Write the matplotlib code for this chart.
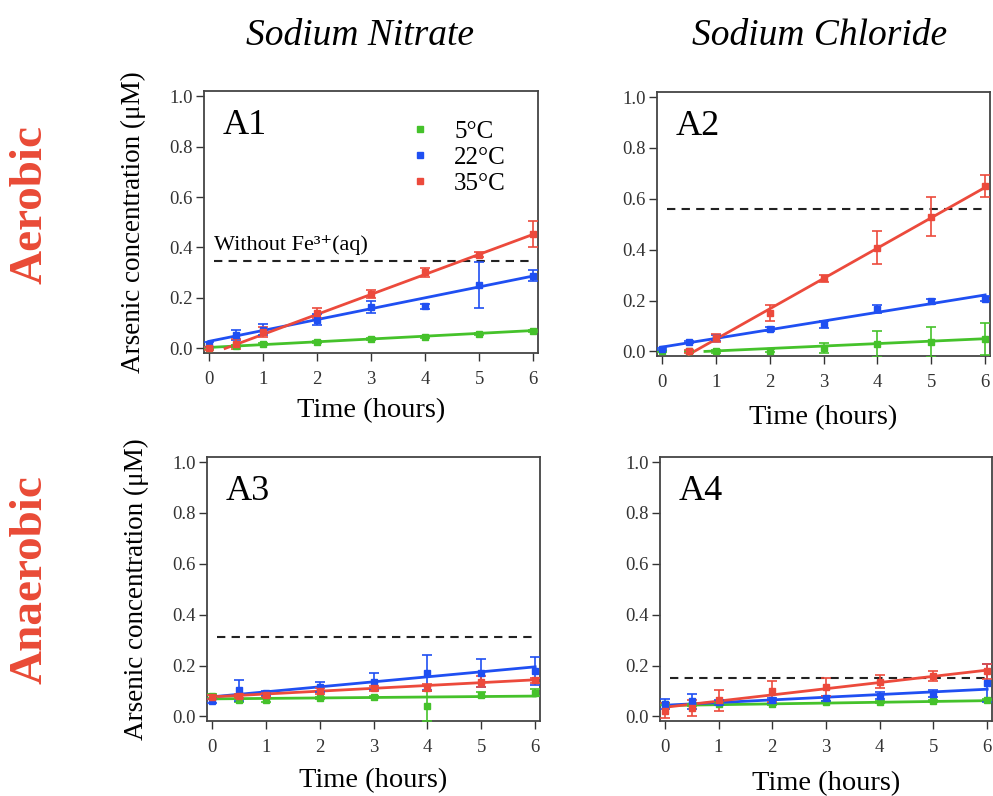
import numpy as np
import matplotlib
matplotlib.use("Agg")
import matplotlib.pyplot as plt
from matplotlib.lines import Line2D

plt.rcParams['font.family'] = ['Liberation Serif', 'DejaVu Serif']

GREEN = '#45c22b'
BLUE = '#1f4ff2'
RED = '#ec4a3c'

hours = [0, 0.5, 1, 2, 3, 4, 5, 6]
temps = ['5°C', '22°C', '35°C']

# A1: sodium nitrate, aerobic
a1_green = [0.003, 0.010, 0.016, 0.026, 0.038, 0.047, 0.059, 0.071]
a1_green_err = [0.004, 0.004, 0.004, 0.004, 0.004, 0.004, 0.004, 0.004]
a1_blue = [0.016, 0.053, 0.075, 0.114, 0.163, 0.167, 0.252, 0.289]
a1_blue_err = [0.010, 0.020, 0.022, 0.023, 0.024, 0.010, 0.090, 0.020]
a1_red = [0.000, 0.017, 0.066, 0.140, 0.216, 0.301, 0.371, 0.454]
a1_red_err = [0.005, 0.020, 0.020, 0.020, 0.015, 0.017, 0.010, 0.052]
a1_fits = [([0.0, 6.0], [0.004, 0.071]), ([0.0, 6.0], [0.028, 0.287]), ([0.3, 6.0], [0.0, 0.452])]
a1_ref = 0.348

# A2: sodium chloride, aerobic
a2_green = [0.000, 0.000, 0.000, 0.003, 0.013, 0.029, 0.037, 0.049]
a2_green_err = [0.003, 0.003, 0.005, 0.005, 0.020, 0.050, 0.060, 0.063]
a2_blue = [0.010, 0.037, 0.053, 0.089, 0.106, 0.168, 0.198, 0.207]
a2_blue_err = [0.005, 0.005, 0.012, 0.008, 0.013, 0.015, 0.010, 0.010]
a2_red = [np.nan, 0.000, 0.053, 0.152, 0.287, 0.408, 0.530, 0.651]
a2_red_err = [np.nan, 0.005, 0.015, 0.032, 0.013, 0.066, 0.076, 0.043]
a2_fits = [([0.8, 6.0], [0.0, 0.050]), ([0.0, 6.0], [0.017, 0.222]), ([0.5, 6.0], [-0.012, 0.645])]
a2_ref = 0.559

# A3: sodium nitrate, anaerobic
a3_green = [0.080, 0.063, 0.066, 0.072, 0.077, 0.040, 0.085, 0.094]
a3_green_err = [0.008, 0.008, 0.008, 0.005, 0.005, 0.058, 0.010, 0.015]
a3_blue = [0.059, 0.102, 0.091, 0.117, 0.137, 0.172, 0.170, 0.180]
a3_blue_err = [0.008, 0.043, 0.010, 0.020, 0.034, 0.068, 0.055, 0.055]
a3_red = [0.077, 0.080, 0.084, 0.100, 0.110, 0.113, 0.137, 0.143]
a3_red_err = [0.008, 0.008, 0.008, 0.010, 0.010, 0.015, 0.020, 0.010]
a3_fits = [([0.0, 6.0], [0.069, 0.080]), ([0.0, 6.0], [0.077, 0.195]), ([0.0, 6.0], [0.077, 0.144])]
a3_ref = 0.313

# A4: sodium chloride, anaerobic
a4_green = [0.047, 0.045, 0.050, 0.050, 0.055, 0.056, 0.059, 0.063]
a4_green_err = [0.004, 0.004, 0.004, 0.004, 0.004, 0.004, 0.004, 0.004]
a4_blue = [0.050, 0.059, 0.055, 0.063, 0.072, 0.082, 0.090, 0.130]
a4_blue_err = [0.020, 0.030, 0.010, 0.010, 0.010, 0.015, 0.015, 0.075]
a4_red = [0.022, 0.033, 0.063, 0.098, 0.115, 0.137, 0.160, 0.178]
a4_red_err = [0.030, 0.030, 0.040, 0.040, 0.035, 0.025, 0.020, 0.030]
a4_fits = [([0.0, 6.0], [0.043, 0.062]), ([0.0, 6.0], [0.044, 0.107]), ([0.0, 6.0], [0.036, 0.182])]
a4_ref = 0.152

panels = [
    ('A1', [a1_green, a1_blue, a1_red], [a1_green_err, a1_blue_err, a1_red_err], a1_fits, a1_ref),
    ('A2', [a2_green, a2_blue, a2_red], [a2_green_err, a2_blue_err, a2_red_err], a2_fits, a2_ref),
    ('A3', [a3_green, a3_blue, a3_red], [a3_green_err, a3_blue_err, a3_red_err], a3_fits, a3_ref),
    ('A4', [a4_green, a4_blue, a4_red], [a4_green_err, a4_blue_err, a4_red_err], a4_fits, a4_ref),
]

# axes boxes in pixels: left, right, top, bottom
boxes = [(204, 538, 91, 353), (657, 990, 92, 356), (207, 540, 457, 721), (660, 992, 457, 721)]
xlabel_pad = [7.5, 10, 9, 11]

W, H = 993, 796
fig = plt.figure(figsize=(W / 100, H / 100), dpi=100)
colors = [GREEN, BLUE, RED]

for i, (name, series, errs, fits, ref) in enumerate(panels):
    l, r, t, b = boxes[i]
    ax = fig.add_axes([l / W, 1 - b / H, (r - l) / W, (b - t) / H])
    for c, y, e, (fx, fy) in zip(colors, series, errs, fits):
        ax.plot(fx, fy, color=c, lw=2, zorder=3)
        ax.errorbar(hours, y, yerr=e, fmt='s', color=c, ms=4, elinewidth=1.2,
                    capsize=3.5, capthick=1.2, zorder=4)
    ax.plot([0.1, 6.0], [ref, ref], color='#222222', lw=1.5, ls=(0, (4, 3)), zorder=2)
    if name == 'A1':
        ax.text(0.1, ref + 0.022, 'Without Fe³⁺(aq)', fontsize=16, va='bottom')
    ax.text(0.055, 0.93, name, transform=ax.transAxes, fontsize=26, va='top')
    ax.set_xlim(-0.09, 6.09)
    ax.set_ylim(-0.018, 1.02)
    ax.set_xticks(range(7))
    ax.set_yticks([0, 0.2, 0.4, 0.6, 0.8, 1.0])
    ax.set_yticklabels(['0.0', '0.2', '0.4', '0.6', '0.8', '1.0'])
    ax.tick_params(direction='out', length=6, width=1, labelsize=13.5, colors='#333333')
    ax.tick_params(axis='x', pad=7)
    ax.tick_params(axis='y', pad=2)
    for s in ax.spines.values():
        s.set_color('#444444')
        s.set_linewidth(1.3)
    ax.set_xlabel('Time (hours)', fontsize=20.5, labelpad=xlabel_pad[i])
    if i % 2 == 0:
        ax.set_ylabel('Arsenic concentration (μM)', fontsize=19.5, labelpad=17)
    if name == 'A1':
        handles = [Line2D([], [], ls='none', marker='s', ms=5, color=c) for c in colors]
        ax.legend(handles, temps, loc='upper left', bbox_to_anchor=(0.543, 0.975),
                  frameon=False, fontsize=18, handlelength=1.0, handletextpad=0.85,
                  labelspacing=0.15)

fig.text(360 / W, 1 - 36 / H, 'Sodium Nitrate', fontsize=27, style='italic', ha='center', va='center')
fig.text(820 / W, 1 - 36 / H, 'Sodium Chloride', fontsize=27, style='italic', ha='center', va='center')
fig.text(31 / W, 1 - 205 / H, 'Aerobic', fontsize=34, weight='bold', color='#e94a36',
         rotation=90, ha='center', va='center')
fig.text(31 / W, 1 - 580 / H, 'Anaerobic', fontsize=34, weight='bold', color='#e94a36',
         rotation=90, ha='center', va='center')

fig.savefig('out.png', dpi=100)
